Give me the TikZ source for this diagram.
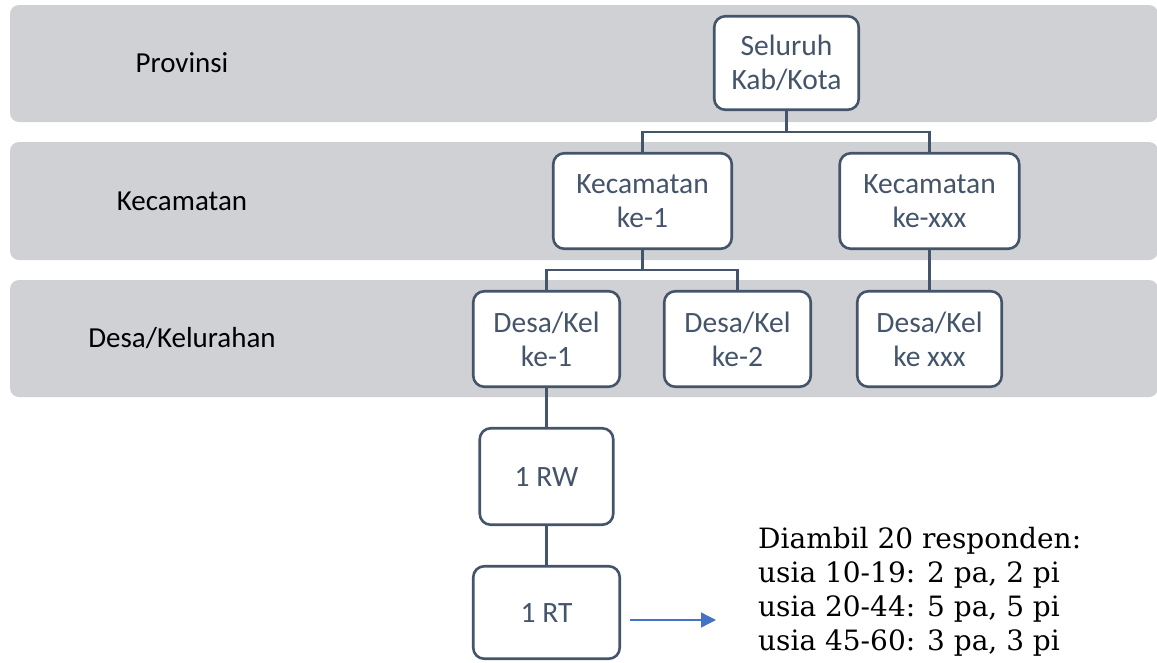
\documentclass[tikz,border=0pt]{standalone}
\usepackage{fontspec}
\setmainfont{Carlito}
\newfontfamily\notefont{DejaVu Serif}
\usetikzlibrary{arrows.meta}
\definecolor{bandgrey}{HTML}{D0D1D5}
\definecolor{slate}{HTML}{44546A}
\definecolor{arrowblue}{HTML}{4472C4}
\begin{document}
\begin{tikzpicture}[x=1pt,y=-1pt,
  band/.style={fill=bandgrey, rounded corners=9pt},
  unit/.style={draw=slate, line width=2.6pt, fill=white, rounded corners=11pt,
    text=slate, align=center, inner sep=0pt,
    font=\fontsize{29.5}{34}\selectfont},
  level/.style={text=black, inner sep=0pt, font=\fontsize{29}{34}\selectfont},
  link/.style={draw=slate, line width=2.4pt},
  note/.style={align=left, inner sep=0pt, anchor=north west,
    font=\notefont\fontsize{28}{34}\selectfont},
]
\useasboundingbox (0,0) rectangle (1157,662);

% level bands
\begin{scope}
\clip (0,0) rectangle (1157,662);
\fill[band] (10,5) rectangle (1158,122);
\fill[band] (10,142) rectangle (1158,260);
\fill[band] (10,280) rectangle (1158,397);
\end{scope}

% level names
\node[level] (lprov) at (182,63) {Provinsi};
\node[level] (lkec) at (182,201) {Kecamatan};
\node[level] (ldesa) at (182,338.5) {Desa/Kelurahan};

% administrative units
\node[unit, minimum width=144.5pt, minimum height=93.5pt] (kab) at (786.5,63) {Seluruh\\Kab/Kota};
\node[unit, minimum width=178.5pt, minimum height=95.5pt] (kec1) at (642.5,201) {Kecamatan\\ke-1};
\node[unit, minimum width=179.5pt, minimum height=95.5pt] (kecx) at (929.5,201) {Kecamatan\\ke-xxx};
\node[unit, minimum width=146.5pt, minimum height=95.5pt] (desa1) at (546.5,339) {Desa/Kel\\ke-1};
\node[unit, minimum width=146.5pt, minimum height=95.5pt] (desa2) at (737.5,339) {Desa/Kel\\ke-2};
\node[unit, minimum width=144.5pt, minimum height=95.5pt] (desax) at (929.5,339) {Desa/Kel\\ke xxx};
\node[unit, minimum width=133.5pt, minimum height=96.5pt] (rw) at (546.5,476.5) {1 RW};
\node[unit, minimum width=146.5pt, minimum height=92.5pt] (rt) at (546.5,612.5) {1 RT};

% tree connectors
\coordinate (bus1) at (0,132);
\coordinate (bus2) at (0,270);
\draw[link] (kab.south) -- (kab.south |- bus1);
\draw[link] (kec1.north) |- (kecx.north |- bus1) -- (kecx.north);
\draw[link] (kec1.south) -- (kec1.south |- bus2);
\draw[link] (desa1.north) |- (desa2.north |- bus2) -- (desa2.north);
\draw[link] (kecx.south) -- (desax.north);
\draw[link] (desa1.south) -- (rw.north);
\draw[link] (rw.south) -- (rt.north);

% sample note
\node[note] (sample) at (758,527) {Diambil 20 responden:\\usia 10-19: 2 pa, 2 pi\\usia 20-44: 5 pa, 5 pi\\usia 45-60: 3 pa, 3 pi};
\coordinate (arrowEnd) at (716,620);
\path (rt.east |- arrowEnd) coordinate (arrowStart);
\draw[arrowblue, line width=1.3pt, -{Triangle[length=15pt,width=15pt]}]
  ([xshift=9pt]arrowStart) -- (arrowEnd);
\end{tikzpicture}
\end{document}
